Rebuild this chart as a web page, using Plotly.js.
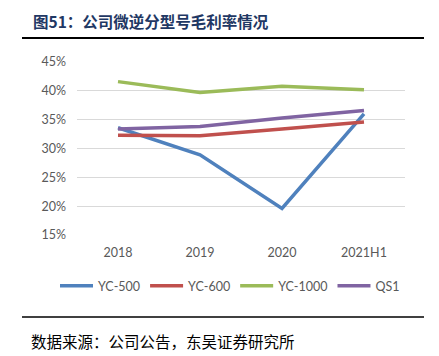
<!DOCTYPE html>
<html>
<head>
<meta charset="utf-8">
<script src="https://cdn.plot.ly/plotly-3.0.1.min.js"></script>
<style>
html,body{margin:0;padding:0;background:#fff;}
#chart{width:439px;height:356px;}
</style>
</head>
<body>
<div id="chart"></div>
<script>
const categories = ["2018", "2019", "2020", "2021H1"];
const seriesNames = ["YC-500", "YC-600", "YC-1000", "QS1"];
const yc500 = [0.336, 0.289, 0.196, 0.360];
const yc600 = [0.323, 0.322, 0.334, 0.346];
const yc1000 = [0.416, 0.397, 0.408, 0.402];
const qs1 = [0.334, 0.338, 0.353, 0.366];
const yTicks = [0.15, 0.20, 0.25, 0.30, 0.35, 0.40, 0.45];
const yTickText = ["15%", "20%", "25%", "30%", "35%", "40%", "45%"];
const colors = ["#4f81bd", "#c0504d", "#9bbb59", "#8064a2"];
const allSeries = [yc500, yc600, yc1000, qs1];

const traces = allSeries.map((vals, i) => ({
  type: "scatter",
  mode: "lines",
  x: categories,
  y: vals,
  name: seriesNames[i],
  line: {color: colors[i], width: 3.5},
  hoverinfo: "skip"
}));

const plotL = 77, plotW = 328, plotT = 62, plotH = 173;
const px = x => (x - plotL) / plotW;
const py = y => (plotT + plotH - y) / plotH;

const layout = {
  width: 439,
  height: 356,
  margin: {l: 77, r: 34, t: 62, b: 121},
  paper_bgcolor: "#fff",
  plot_bgcolor: "#fff",
  font: {family: "Lato, 'Open Sans', sans-serif", size: 12, color: "#595959"},
  showlegend: true,
  legend: {
    orientation: "h",
    x: px(55), xanchor: "left",
    y: py(286), yanchor: "middle",
    font: {family: "Lato, sans-serif", size: 12.5, color: "#595959"},
    itemwidth: 33,
    tracegroupgap: 0
  },
  xaxis: {
    type: "category",
    range: [-0.5, 3.5],
    showgrid: false,
    zeroline: false,
    showline: false,
    ticks: "",
    ticklabelstandoff: 8,
    tickfont: {family: "Lato, sans-serif", size: 12.5, color: "#595959"},
    fixedrange: true
  },
  yaxis: {
    range: [0.15, 0.45],
    tickvals: yTicks,
    ticktext: yTickText,
    showgrid: true,
    gridcolor: "#d9d9d9",
    gridwidth: 1,
    zeroline: false,
    showline: false,
    ticks: "",
    ticklabelstandoff: 10,
    tickfont: {family: "Lato, sans-serif", size: 12.5, color: "#595959"},
    fixedrange: true
  },
  shapes: [
    {type: "line", xref: "paper", yref: "paper", layer: "above",
     x0: px(22), x1: px(424), y0: py(38), y1: py(38),
     line: {color: "#000000", width: 2}},
    {type: "line", xref: "paper", yref: "paper", layer: "above",
     x0: px(22), x1: px(424), y0: py(317), y1: py(317),
     line: {color: "#000000", width: 1.5}}
  ],
  annotations: [
    {text: "<b>图51：公司微逆分型号毛利率情况</b>", xref: "paper", yref: "paper",
     x: px(31), y: py(21), xanchor: "left", yanchor: "middle",
     showarrow: false,
     font: {family: "'Noto Sans CJK SC', sans-serif", size: 15.5, color: "#1f3864"}},
    {text: "数据来源：公司公告，东吴证券研究所", xref: "paper", yref: "paper",
     x: px(29), y: py(341), xanchor: "left", yanchor: "middle",
     showarrow: false,
     font: {family: "'Noto Sans CJK SC', sans-serif", size: 15.5, color: "#000"}}
  ]
};

Plotly.newPlot("chart", traces, layout, {displayModeBar: false, staticPlot: true});
</script>
</body>
</html>
